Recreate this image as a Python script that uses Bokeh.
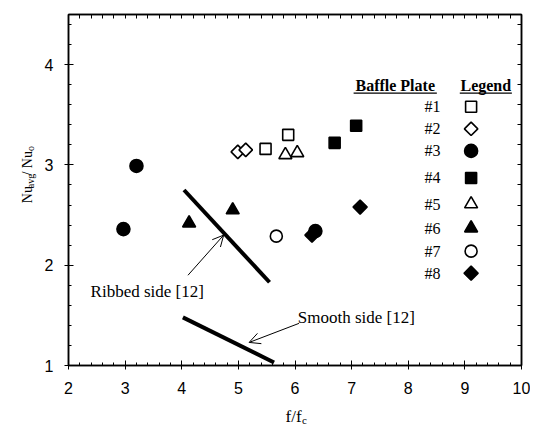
import numpy as np
from bokeh.plotting import figure
from bokeh.layouts import row, column
from bokeh.models import (Range1d, SingleIntervalTicker, FixedTicker, LinearAxis, Label,
                          Arrow, OpenHead)
from bokeh.core.properties import value
from bokeh.embed import file_html
from bokeh.resources import INLINE

# ---------------- data ----------------
baffle_labels = ["#1", "#2", "#3", "#4", "#5", "#6", "#7", "#8"]

p1_x = [5.48, 5.88]
p1_y = [3.16, 3.30]
p2_x = [4.99, 5.13]
p2_y = [3.13, 3.15]
p3_x = [2.97, 3.20, 6.36]
p3_y = [2.36, 2.99, 2.34]
p4_x = [6.70, 7.08]
p4_y = [3.22, 3.39]
p5_x = [5.83, 6.04]
p5_y = [3.10, 3.12]
p6_x = [4.13, 4.90]
p6_y = [2.42, 2.55]
p7_x = [5.67]
p7_y = [2.29]
p8_x = [6.30, 7.15]
p8_y = [2.30, 2.58]

ribbed_x = [4.04, 5.55]
ribbed_y = [2.75, 1.83]
smooth_x = [4.02, 5.63]
smooth_y = [1.48, 1.03]

x_ticks = [2, 3, 4, 5, 6, 7, 8, 9, 10]
y_ticks = [1, 2, 3, 4]

# legend layout (data units)
legend_y = [3.58, 3.36, 3.14, 2.87, 2.61, 2.37, 2.14, 1.92]
legend_label_x = 8.43
legend_marker_x = 9.11

SERIF = "Liberation Serif"
SANS = "Liberation Sans"

# ---------------- main figure ----------------
p = figure(width=490, height=400, x_range=Range1d(2, 10), y_range=Range1d(1, 4.5),
           output_backend="svg", toolbar_location=None,
           min_border_left=28, min_border_right=9, min_border_top=14, min_border_bottom=35)
p.grid.visible = False
p.outline_line_color = "black"
p.outline_line_width = 1.5

for ax in (p.xaxis[0], p.yaxis[0]):
    ax.ticker = SingleIntervalTicker(interval=1, num_minor_ticks=5)
    ax.axis_line_width = 1.5
    ax.major_tick_in = 5
    ax.major_tick_out = 4
    ax.minor_tick_in = 3
    ax.minor_tick_out = 0
    ax.major_label_text_font = SANS
    ax.major_label_text_font_size = "16px"
    ax.major_label_text_color = "black"
p.xaxis[0].major_label_standoff = 12
p.yaxis[0].major_label_standoff = 11

# mirrored tick marks on top and right (no labels)
mirror_x = list(np.arange(2.0, 10.001, 0.2))
mirror_y = list(np.arange(1.0, 4.501, 0.2))
for side, mt in (("above", mirror_x), ("right", mirror_y)):
    ax = LinearAxis(ticker=FixedTicker(ticks=[], minor_ticks=mt),
                    major_label_standoff=0, minor_tick_in=4, minor_tick_out=0,
                    major_tick_in=0, major_tick_out=0, axis_line_width=1.5)
    p.add_layout(ax, side)

# ---------------- series ----------------
series = [
    (p1_x, p1_y, "square", False, 11, 0.0),
    (p2_x, p2_y, "square", False, 9.5, np.pi / 4),
    (p3_x, p3_y, "circle", True, 13, 0.0),
    (p4_x, p4_y, "square", True, 11, 0.0),
    (p5_x, p5_y, "triangle", False, 13, 0.0),
    (p6_x, p6_y, "triangle", True, 13, 0.0),
    (p7_x, p7_y, "circle", False, 12, 0.0),
    (p8_x, p8_y, "square", True, 10, np.pi / 4),
]

for i, (xs, ys, mk, filled, sz, ang) in enumerate(series):
    fill = "black" if filled else "white"
    p.scatter(xs, ys, marker=mk, size=sz, angle=ang, fill_color=fill,
              line_color="black", line_width=1.6)
    p.scatter([legend_marker_x], [legend_y[i]], marker=mk, size=sz, angle=ang,
              fill_color=fill, line_color="black", line_width=1.6)
    p.add_layout(Label(x=legend_label_x, y=legend_y[i], text=baffle_labels[i],
                       text_font=SERIF, text_font_size="16px", text_align="center",
                       text_baseline="middle", text_color="black"))

# legend headers (underlined)
hdr_y = 3.79
for txt, cx, w in (("Baffle Plate", 7.77, 1.47), ("Legend", 9.37, 0.92)):
    p.add_layout(Label(x=cx, y=hdr_y, text=txt, text_font=SERIF, text_font_size="16px",
                       text_font_style="bold", text_align="center",
                       text_baseline="middle", text_color="black"))
    p.segment(x0=[cx - w / 2], y0=[hdr_y - 0.075], x1=[cx + w / 2], y1=[hdr_y - 0.075],
              line_color="black", line_width=1.2)

# reference lines from [12]
p.line(ribbed_x, ribbed_y, line_color="black", line_width=4)
p.line(smooth_x, smooth_y, line_color="black", line_width=4)

p.add_layout(Label(x=2.39, y=1.74, text="Ribbed side [12]", text_font=SERIF,
                   text_font_size="17px", text_baseline="middle", text_color="black"))
p.add_layout(Label(x=6.05, y=1.48, text="Smooth side [12]", text_font=SERIF,
                   text_font_size="17px", text_baseline="middle", text_color="black"))

p.add_layout(Arrow(x_start=4.11, y_start=1.90, x_end=4.74, y_end=2.30,
                   line_width=1, end=OpenHead(size=11, line_width=1)))
p.add_layout(Arrow(x_start=6.07, y_start=1.42, x_end=5.19, y_end=1.23,
                   line_width=1, end=OpenHead(size=11, line_width=1)))

# ---------------- y-axis title strip ----------------
yt = figure(width=40, height=400, x_range=Range1d(0, 40), y_range=Range1d(0, 400),
            x_axis_type=None, y_axis_type=None, output_backend="svg",
            toolbar_location=None, min_border=0)
yt.outline_line_color = None
ytitle_parts = ["Nu", "avg", " / Nu", "o"]
ytitle_sizes = ["14px", "10px", "14px", "10px"]
ytitle_x = [26.7, 29.7, 26.7, 29.7]
ytitle_y = [185.0, 202.1, 216.5, 244.5]
for t, s, tx, ty in zip(ytitle_parts, ytitle_sizes, ytitle_x, ytitle_y):
    yt.text(x=[tx], y=[ty], text=[t], angle=np.pi / 2, text_font=value(SERIF),
            text_font_size=value(s), text_align="left", text_baseline="alphabetic",
            text_color="black")

# ---------------- x-axis title strip ----------------
xt = figure(width=530, height=25, x_range=Range1d(0, 530), y_range=Range1d(0, 25),
            x_axis_type=None, y_axis_type=None, output_backend="svg",
            toolbar_location=None, min_border=0)
xt.outline_line_color = None
xt.text(x=[285], y=[9], text=["f/f"], text_font=value(SERIF), text_font_size=value("17px"),
        text_align="left", text_baseline="alphabetic", text_color="black")
xt.text(x=[301.5], y=[6], text=["c"], text_font=value(SERIF), text_font_size=value("11px"),
        text_align="left", text_baseline="alphabetic", text_color="black")

layout = column(row(yt, p, spacing=0), xt, spacing=0)

open("out.html", "w").write(file_html(layout, INLINE))
